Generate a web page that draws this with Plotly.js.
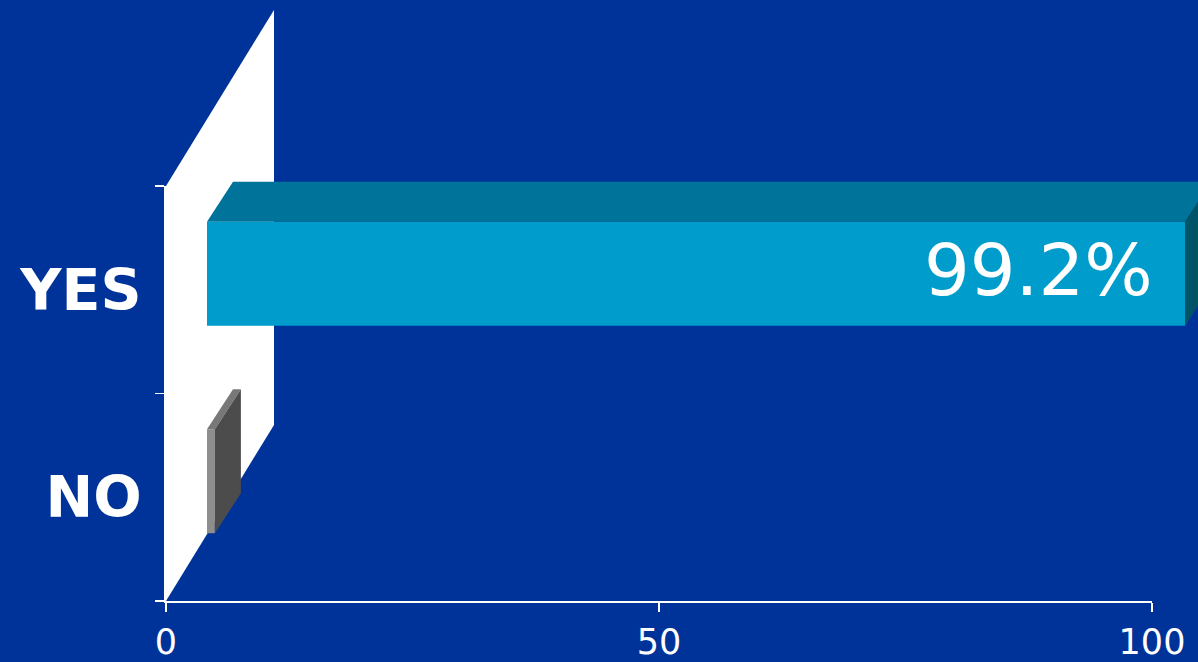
<!DOCTYPE html>
<html>
<head>
<meta charset="utf-8">
<script src="https://cdn.plot.ly/plotly-3.0.1.min.js"></script>
<style>html,body{margin:0;padding:0;background:#003399;}#chart{width:1198px;height:662px;}</style>
</head>
<body>
<div id="chart"></div>
<script>
// ---- data ----
const categories = ['NO', 'YES'];
const values = [0.8, 99.2];
const valueLabels = ['', '99.2%'];
const xTickVals = [0, 50, 100];
const xTickText = ['0', '50', '100'];

// ---- style constants (pixel geometry -> data units) ----
const PX_X = 9.86;
const PX_Y = 207.5;
const FRONT_DX = 41 / PX_X;
const FRONT_DY = 16 / PX_Y;
const DEPTH_DX = 26 / PX_X;
const DEPTH_DY = 40 / PX_Y;
const WALL_DX = 108 / PX_X;
const WALL_DY = 176 / PX_Y;
const BAR_W = 104 / PX_Y;

const frontColors = ['#8e8e8e', '#009ccc'];
const topColors = ['#787878', '#00739a'];
const sideColors = ['#4c4c4c', '#005468'];

const yPos = categories.map((c, i) => i + FRONT_DY);
const yLo = -0.5, yHi = categories.length - 0.5;

const shapes = [];
values.forEach((v, i) => {
  const x0 = FRONT_DX, x1 = FRONT_DX + v;
  const yt = yPos[i] + BAR_W / 2, yb = yPos[i] - BAR_W / 2;
  shapes.push({
    type: 'path', xref: 'x3', yref: 'y3', layer: 'above', opacity: 1,
    path: `M${x0},${yt} L${x1},${yt} L${x1 + DEPTH_DX},${yt + DEPTH_DY} L${x0 + DEPTH_DX},${yt + DEPTH_DY} Z`,
    fillcolor: topColors[i], line: {width: 0}
  });
  shapes.push({
    type: 'path', xref: 'x3', yref: 'y3', layer: 'above', opacity: 1,
    path: `M${x1},${yt} L${x1 + DEPTH_DX},${yt + DEPTH_DY} L${x1 + DEPTH_DX},${yb + DEPTH_DY} L${x1},${yb} Z`,
    fillcolor: sideColors[i], line: {width: 0}
  });
});

const annotations = [];
values.forEach((v, i) => {
  if (!valueLabels[i]) return;
  annotations.push({
    xref: 'x3', yref: 'y3', x: FRONT_DX + v, y: yPos[i],
    xanchor: 'right', yanchor: 'middle', xshift: -30, yshift: 4,
    text: valueLabels[i], showarrow: false,
    font: {family: 'DejaVu Sans', size: 72, color: '#ffffff'}
  });
});

const traces = [
  {type: 'scatter', x: [], y: [], xaxis: 'x', yaxis: 'y', hoverinfo: 'skip', showlegend: false},
  // back wall of the 3D frame
  {
    type: 'scatter', mode: 'none', fill: 'toself', fillcolor: '#ffffff',
    x: [0, 0, WALL_DX, WALL_DX, 0], y: [yLo, yHi, yHi + WALL_DY, yLo + WALL_DY, yLo],
    xaxis: 'x2', yaxis: 'y2', hoverinfo: 'skip', showlegend: false
  },
  {
    type: 'bar', orientation: 'h', x: values, y: yPos, base: FRONT_DX,
    width: BAR_W, marker: {color: frontColors, opacity: 1, line: {width: 0}},
    xaxis: 'x3', yaxis: 'y3', hoverinfo: 'skip', showlegend: false
  }
];

const hiddenX = {domain: [0, 1], range: [0, 1032 / PX_X], visible: false, fixedrange: true};
const hiddenY = {domain: [0, 1], range: [-0.5, -0.5 + 601 / PX_Y], visible: false, fixedrange: true};

const layout = {
  width: 1198, height: 662,
  margin: {l: 166, r: 0, t: 0, b: 61},
  paper_bgcolor: '#003399', plot_bgcolor: 'rgba(0,0,0,0)',
  showlegend: false,
  xaxis: {
    domain: [0, 986 / 1032], range: [0, 100], anchor: 'y',
    showline: true, linecolor: '#ffffff', linewidth: 2,
    ticks: 'outside', ticklen: 9, tickwidth: 1.5, tickcolor: '#ffffff',
    tickmode: 'array', tickvals: xTickVals, ticktext: xTickText,
    tickfont: {family: 'DejaVu Sans', size: 35, color: '#ffffff'},
    showgrid: false, zeroline: false, fixedrange: true, ticklabelstandoff: 0
  },
  yaxis: {
    domain: [0, 415 / 601], range: [yLo, yHi], anchor: 'x',
    showline: true, linecolor: '#ffffff', linewidth: 2,
    ticks: '', tickmode: 'array', tickvals: categories.map((c, i) => i), ticktext: categories,
    tickfont: {family: 'DejaVu Sans', size: 57, color: '#ffffff', weight: 'bold'},
    minor: {tickmode: 'array', tickvals: [-0.5, 0.5, 1.5], ticks: 'outside', ticklen: 9, tickwidth: 1.5, tickcolor: '#ffffff', showgrid: false},
    ticklabelstandoff: 11,
    showgrid: false, zeroline: false, fixedrange: true
  },
  xaxis2: Object.assign({anchor: 'y2'}, hiddenX),
  yaxis2: Object.assign({anchor: 'x2'}, hiddenY),
  xaxis3: Object.assign({anchor: 'y3'}, hiddenX),
  yaxis3: Object.assign({anchor: 'x3'}, hiddenY),
  shapes: shapes,
  annotations: annotations
};

Plotly.newPlot('chart', traces, layout, {displayModeBar: false, staticPlot: true});
</script>
</body>
</html>
